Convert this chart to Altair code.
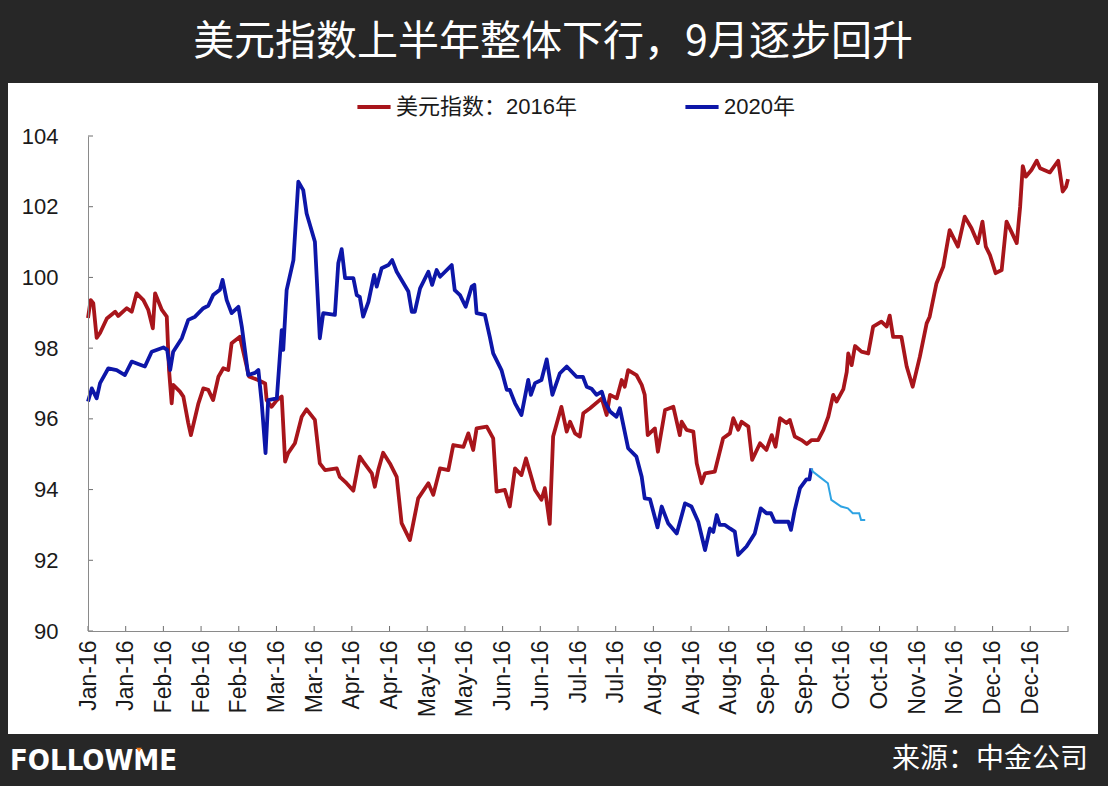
import json
import altair as alt
import pandas as pd

# ---------------- data ----------------
tick_labels = ["Jan-16", "Jan-16", "Feb-16", "Feb-16", "Feb-16", "Mar-16", "Mar-16",
               "Apr-16", "Apr-16", "May-16", "May-16", "Jun-16", "Jun-16", "Jul-16",
               "Jul-16", "Aug-16", "Aug-16", "Aug-16", "Sep-16", "Sep-16", "Oct-16",
               "Oct-16", "Nov-16", "Nov-16", "Dec-16", "Dec-16"]
tick_days = list(range(0, 260, 10))
y_ticks = [90, 92, 94, 96, 98, 100, 102, 104]

series_names = ["美元指数：2016年", "2020年"]

day_2016 = [0, 0.7, 1.4, 2.3, 3.2, 5.0, 7.2, 8.0, 10.3, 11.6,
            12.9, 14.7, 16.0, 17.2, 17.8, 19.6, 20.9, 21.5, 22.2, 22.6,
            24.4, 25.3, 26.6, 27.3, 29.3, 30.6, 31.9, 33.2, 34.6, 35.9,
            37.2, 38.1, 40.3, 42.7, 45.1, 47.0, 47.4, 48.7, 50.1, 51.4,
            52.3, 53.1, 54.9, 56.7, 58.0, 60.2, 61.5, 62.9, 66.0, 66.8,
            68.6, 70.4, 72.1, 73.0, 75.3, 76.1, 77.0, 78.3, 80.1, 81.9,
            83.2, 85.4, 86.3, 87.6, 90.3, 91.6, 93.4, 95.6, 96.9, 99.6,
            100.9, 102.2, 103.1, 105.8, 107.5, 108.4, 110.6, 111.9, 113.3, 115.0,
            116.2, 117.2, 118.6, 120.3, 121.2, 122.5, 123.4, 125.6, 127.0, 127.9,
            129.2, 130.5, 131.4, 133.2, 136.3, 137.6, 138.5, 140.3, 141.6, 142.4,
            143.3, 145.5, 146.9, 147.7, 148.5, 150.4, 151.2, 153.1, 155.3, 157.0,
            157.5, 158.8, 160.6, 161.5, 162.8, 163.7, 166.3, 168.5, 170.3, 171.2,
            172.5, 173.4, 175.2, 176.2, 178.3, 180.0, 181.4, 182.4, 183.6, 185.3,
            186.2, 187.5, 189.3, 190.7, 192.0, 193.7, 195.1, 196.4, 197.7, 198.6,
            200.4, 201.3, 201.7, 202.6, 203.5, 205.2, 207.0, 208.3, 210.5, 211.9,
            212.7, 213.6, 215.8, 217.2, 218.8, 220.7, 222.5, 223.3, 225.1, 226.9,
            228.6, 230.8, 232.6, 234.4, 236.1, 237.3, 238.2, 239.3, 240.8, 242.4,
            243.7, 245.0, 246.4, 247.3, 248.0, 248.8, 250.3, 251.7, 252.6, 255.2,
            257.4, 258.6, 259.5, 260.0]
val_2016 = [98.85, 99.36, 99.27, 98.29, 98.43, 98.84, 99.03, 98.91, 99.13, 99.03,
            99.55, 99.36, 99.08, 98.56, 99.55, 99.08, 98.89, 97.38, 96.44, 96.96,
            96.77, 96.63, 95.88, 95.54, 96.44, 96.86, 96.82, 96.53, 97.19, 97.43,
            97.38, 98.14, 98.32, 97.2, 97.1, 97.0, 96.53, 96.34, 96.53, 96.63,
            94.79, 95.03, 95.31, 96.06, 96.27, 95.97, 94.74, 94.55, 94.60, 94.36,
            94.18, 93.97, 94.93, 94.79, 94.46, 94.08, 94.55, 95.04, 94.74, 94.36,
            93.05, 92.57, 93.05, 93.75, 94.18, 93.85, 94.60, 94.55, 95.26, 95.21,
            95.59, 95.12, 95.73, 95.78, 95.45, 93.94, 93.99, 93.52, 94.60, 94.41,
            94.88, 94.51, 93.99, 93.71, 94.04, 93.03, 95.50, 96.34, 95.64, 95.92,
            95.59, 95.50, 96.16, 96.30, 96.58, 96.11, 96.68, 96.58, 97.10, 96.91,
            97.38, 97.24, 96.96, 96.68, 95.54, 95.73, 95.07, 96.25, 96.34, 95.54,
            95.92, 95.69, 95.64, 94.74, 94.18, 94.46, 94.51, 95.45, 95.59, 96.02,
            95.69, 95.92, 95.78, 94.84, 95.31, 95.12, 95.54, 95.21, 96.02, 95.88,
            95.97, 95.50, 95.40, 95.29, 95.40, 95.40, 95.69, 96.06, 96.68, 96.49,
            96.84, 97.33, 97.85, 97.52, 98.06, 97.90, 97.85, 98.61, 98.75, 98.61,
            98.92, 98.32, 98.32, 97.48, 96.91, 97.76, 98.70, 98.89, 99.83, 100.30,
            101.34, 100.87, 101.72, 101.39, 100.97, 101.58, 100.87, 100.63, 100.12, 100.21,
            101.58, 101.29, 100.97, 102.00, 103.15, 102.85, 103.04, 103.30, 103.09, 102.97,
            103.30, 102.43, 102.57, 102.78]

day_2020 = [0, 1.0, 2.3, 3.2, 5.4, 7.6, 9.8, 11.6, 13.3, 15.1,
            16.9, 20.0, 21.0, 21.8, 22.6, 24.9, 26.6, 28.4, 30.6, 31.9,
            33.2, 35.0, 35.7, 36.8, 38.1, 39.9, 40.8, 42.5, 44.3, 45.2,
            46.1, 47.1, 47.8, 50.1, 51.4, 51.8, 52.7, 54.5, 55.8, 57.1,
            58.0, 60.2, 61.5, 62.4, 65.5, 66.4, 67.3, 68.2, 70.4, 71.3,
            72.1, 73.0, 74.4, 75.9, 76.6, 77.9, 79.7, 80.7, 81.9, 83.2,
            85.0, 85.9, 86.7, 88.1, 90.3, 91.3, 92.5, 93.4, 96.5, 97.3,
            98.7, 100.2, 101.8, 102.5, 103.1, 105.3, 106.6, 107.5, 109.7, 111.1,
            111.9, 113.3, 115.0, 116.8, 117.5, 118.6, 120.3, 121.7, 123.2, 125.2,
            127.0, 129.6, 131.3, 132.3, 133.6, 134.9, 136.3, 137.1, 138.5, 140.2,
            141.1, 143.3, 145.5, 146.9, 147.7, 149.1, 151.1, 152.2, 153.9, 156.2,
            158.4, 160.1, 161.9, 163.7, 165.0, 165.9, 166.8, 167.6, 169.0, 170.3,
            171.6, 172.5, 174.7, 176.9, 178.5, 180.0, 181.2, 182.2, 185.8, 186.5,
            187.5, 188.9, 190.6, 191.4, 191.9]
val_2020 = [96.49, 96.86, 96.58, 97.01, 97.43, 97.38, 97.24, 97.62, 97.55, 97.48,
            97.90, 98.02, 97.95, 97.38, 97.90, 98.28, 98.80, 98.89, 99.13, 99.20,
            99.50, 99.65, 99.93, 99.36, 98.99, 99.17, 98.61, 97.24, 97.30, 97.38,
            96.44, 95.03, 96.53, 96.58, 98.51, 97.95, 99.64, 100.49, 102.71, 102.47,
            101.81, 101.01, 98.28, 98.99, 98.94, 100.40, 100.80, 99.98, 99.98, 99.50,
            99.45, 98.89, 99.31, 100.07, 99.74, 100.26, 100.35, 100.49, 100.16, 99.93,
            99.60, 99.03, 99.03, 99.69, 100.16, 99.79, 100.21, 100.02, 100.35, 99.64,
            99.50, 99.17, 99.74, 99.79, 98.99, 98.94, 98.32, 97.85, 97.38, 96.82,
            96.82, 96.44, 96.11, 97.10, 96.68, 97.01, 97.10, 97.68, 96.68, 97.29,
            97.48, 97.19, 97.19, 96.91, 96.85, 96.68, 96.77, 96.49, 96.21, 96.06,
            96.30, 95.17, 94.93, 94.36, 93.75, 93.73, 92.93, 93.52, 93.05, 92.76,
            93.61, 93.52, 93.09, 92.29, 92.90, 92.80, 93.28, 93.00, 93.00, 92.90,
            92.81, 92.15, 92.39, 92.76, 93.47, 93.33, 93.33, 93.09, 93.09, 92.86,
            93.42, 94.04, 94.29, 94.29, 94.60]

day_2020_ext = [191.9, 192.3, 194.1, 196.3, 197.2, 199.8, 201.6, 202.9, 204.6, 205.1, 206.2]
val_2020_ext = [94.60, 94.51, 94.36, 94.18, 93.71, 93.52, 93.47, 93.33, 93.33, 93.14, 93.14]

title_text = "美元指数上半年整体下行，9月逐步回升"
source_text = "来源：中金公司"
logo_text = "FOLLOWME"

# ---------------- layout ----------------
W, H = 980, 495
PAD = {"left": 88, "top": 136, "right": 40, "bottom": 155}
AXIS_GRAY = "#8a8a8a"
LABEL_FONT = "Liberation Sans, Arial, sans-serif"
CJK_FONT = "Noto Sans CJK SC"

lines_df = pd.concat([
    pd.DataFrame({"day": day_2016, "value": val_2016, "series": series_names[0]}),
    pd.DataFrame({"day": day_2020, "value": val_2020, "series": series_names[1]}),
])
ext_df = pd.DataFrame({"day": day_2020_ext, "value": val_2020_ext})
one = pd.DataFrame({"k": [0]})

label_expr = json.dumps(tick_labels) + "[round(datum.value / 10)]"

x_scale = alt.Scale(domain=[0, 260], nice=False, zero=False)
y_scale = alt.Scale(domain=[90, 104], nice=False, zero=False)

x_axis = alt.Axis(values=tick_days, labelExpr=label_expr, labelAngle=270,
                  labelFontSize=23, labelFont=LABEL_FONT, labelColor="#1a1a1a",
                  labelPadding=9, ticks=False, tickSize=0, grid=False,
                  domainColor=AXIS_GRAY, domainWidth=1, title=None, zindex=1,
                  labelOverlap=False, labelBound=False, labelFlush=False,
                  labelSeparation=0)
y_axis = alt.Axis(values=y_ticks, labelFontSize=22, labelFont=LABEL_FONT,
                  labelColor="#1a1a1a", labelPadding=30, ticks=False, tickSize=0,
                  grid=False, domainColor=AXIS_GRAY, domainWidth=1, title=None,
                  zindex=1, labelOverlap=False)

X = alt.X("day:Q", scale=x_scale, axis=x_axis, title=None)
Y = alt.Y("value:Q", scale=y_scale, axis=y_axis, title=None)

panel = alt.Chart(one).mark_rect(color="white").encode(
    x=alt.value(-80), x2=alt.value(1010), y=alt.value(-53), y2=alt.value(598))

lines = alt.Chart(lines_df).mark_line(strokeWidth=3.8, strokeJoin="round").encode(
    x=X, y=Y,
    color=alt.Color("series:N",
                    scale=alt.Scale(domain=series_names, range=["#a8151b", "#0d16a8"]),
                    sort=series_names,
                    legend=alt.Legend(title=None, orient="none", legendX=267, legendY=-48,
                                      direction="horizontal", symbolType="stroke",
                                      symbolStrokeWidth=4, symbolSize=1100,
                                      labelFontSize=22, labelFont=LABEL_FONT + ", " + CJK_FONT,
                                      labelColor="#1a1a1a", labelOffset=3, labelLimit=500,
                                      columnPadding=100)),
)

ext = alt.Chart(ext_df).mark_line(strokeWidth=2, color="#2ea3e3").encode(x=X, y=Y)

xticks = alt.Chart(pd.DataFrame({"day": tick_days + [260]})).mark_rule(
    color="#6f6f6f", strokeWidth=1).encode(
    x=X, y=alt.value(H - 5), y2=alt.value(H))
yticks = alt.Chart(pd.DataFrame({"value": y_ticks})).mark_rule(
    color="#6f6f6f", strokeWidth=1).encode(
    y=Y, x=alt.value(0), x2=alt.value(5))

title = alt.Chart(one).mark_text(text=title_text, font=CJK_FONT, fontSize=41,
                                 color="white", align="center", baseline="middle").encode(
    x=alt.value(553 - 88), y=alt.value(43 - 136))
source = alt.Chart(one).mark_text(text=source_text, font=CJK_FONT, fontSize=28,
                                  color="white", align="right", baseline="middle").encode(
    x=alt.value(1088 - 88), y=alt.value(760 - 136))
logo = alt.Chart(one).mark_text(text=logo_text,
                                font="DejaVu Sans Condensed, Liberation Sans",
                                fontSize=29, fontWeight="bold", color="white",
                                align="left", baseline="middle").encode(
    x=alt.value(10 - 88), y=alt.value(761 - 136))
logo_mark = alt.Chart(one).mark_point(shape="triangle-down", filled=True, size=30,
                                      color="#f07a1a", opacity=1).encode(
    x=alt.value(139 - 88), y=alt.value(750 - 136))

chart = alt.layer(panel, lines, ext, xticks, yticks, title, source, logo, logo_mark).properties(
    width=W, height=H, padding=PAD, autosize=alt.AutoSizeParams(type="none"),
).configure(background="#272727").configure_view(strokeWidth=0)

chart.save("out.html", embed_options={"renderer": "svg", "actions": False})
